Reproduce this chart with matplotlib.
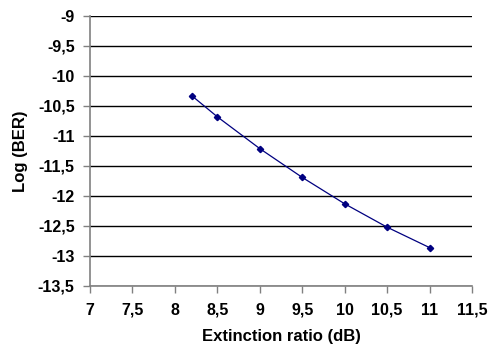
import matplotlib
matplotlib.use("Agg")
import matplotlib.pyplot as plt

extinction_ratio = [8.2, 8.5, 9.0, 9.5, 10.0, 10.5, 11.0]
log_ber = [-10.33, -10.68, -11.21, -11.69, -12.13, -12.52, -12.86]

x_ticks = [7, 7.5, 8, 8.5, 9, 9.5, 10, 10.5, 11, 11.5]
x_tick_labels = ['7', '7,5', '8', '8,5', '9', '9,5', '10', '10,5', '11', '11,5']
y_ticks = [-13.5, -13, -12.5, -12, -11.5, -11, -10.5, -10, -9.5, -9]
y_tick_labels = ['-13,5', '-13', '-12,5', '-12', '-11,5', '-11', '-10,5', '-10', '-9,5', '-9']

plt.rcParams['font.family'] = ['Liberation Sans', 'DejaVu Sans']

fig = plt.figure(figsize=(4.91, 3.45), dpi=100)
ax = fig.add_axes([90/491, 1-286/345, (472-90)/491, (286-16)/345])

ax.plot(extinction_ratio, log_ber, color='#000080', lw=0.9, marker='D', ms=3.2,
        markerfacecolor='#000080', markeredgecolor='#000080', zorder=3)

ax.set_xlim(7, 11.5)
ax.set_ylim(-13.5, -9)
ax.set_xticks(x_ticks, x_tick_labels, fontweight='bold', fontsize=11.5)
ax.set_yticks(y_ticks, y_tick_labels, fontweight='bold', fontsize=11.5)

ax.grid(axis='y', color='black', lw=1.0)
ax.set_axisbelow(True)
for s in ['top', 'right']:
    ax.spines[s].set_visible(False)
for s in ['left', 'bottom']:
    ax.spines[s].set_color('#808080')
    ax.spines[s].set_linewidth(1.2)
ax.tick_params(axis='x', direction='out', length=5, width=1, color='#808080', pad=7)
ax.tick_params(axis='y', direction='out', length=5, width=1, color='#808080', pad=6)

ax.set_xlabel('Extinction ratio (dB)', fontsize=12, fontweight='bold', labelpad=8)
ax.set_ylabel('Log (BER)', fontsize=12, fontweight='bold', labelpad=7)

fig.savefig('out.png', dpi=100)
